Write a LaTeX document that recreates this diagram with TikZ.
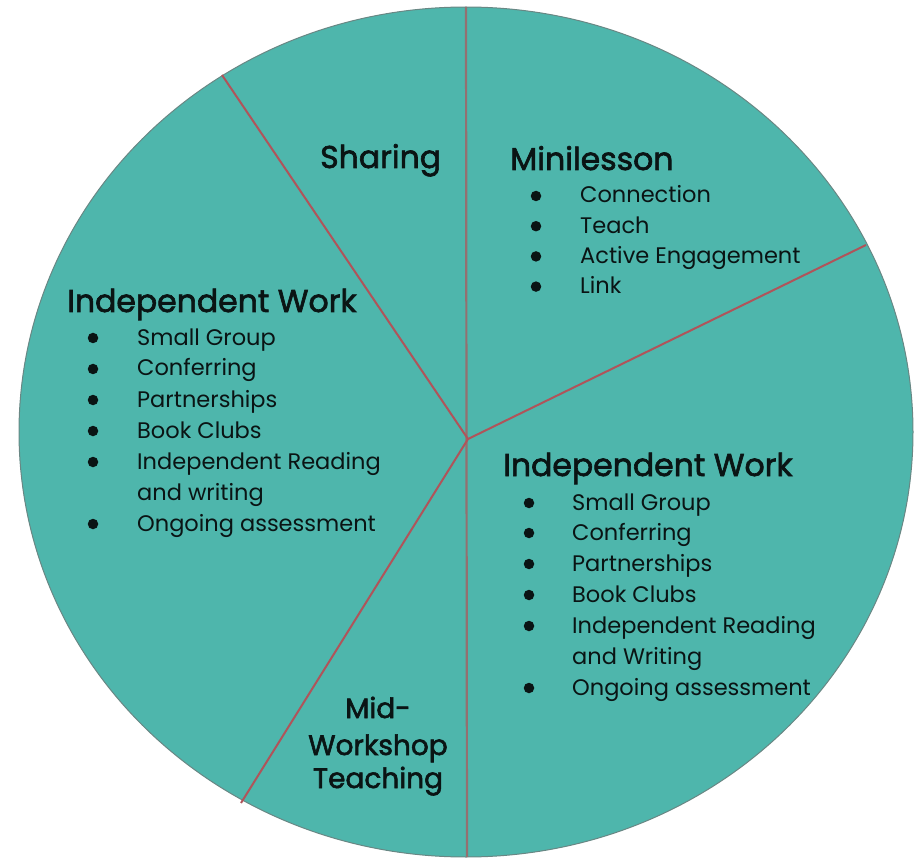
\documentclass[tikz,border=0pt]{standalone}
\usepackage{fontspec}
\setmainfont{Poppins}
\newfontfamily\headfont[FakeBold=2]{Poppins}
\definecolor{pieteal}{RGB}{78,182,172}
\definecolor{pieedge}{RGB}{105,135,132}
\definecolor{divred}{RGB}{176,84,90}
\definecolor{divgray}{RGB}{148,112,112}
\definecolor{txt}{RGB}{10,20,20}
\begin{document}
\begin{tikzpicture}[x=1pt,y=-1pt,
  head/.style={font=\headfont\fontsize{31.5}{33}\selectfont, anchor=base west, inner sep=0pt, text=txt},
  headc/.style={font=\headfont\fontsize{28}{30}\selectfont, anchor=base, inner sep=0pt, text=txt},
  item/.style={font=\fontsize{22.5}{24}\selectfont, anchor=base west, inner sep=0pt, text=txt},
  dot/.style={circle, fill=txt, inner sep=0pt, minimum size=10.5pt},
  divider/.style={draw=divred, line width=2pt},
  vdivider/.style={draw=divgray, line width=2.2pt}]
\useasboundingbox (0,0) rectangle (914,861);
\fill[pieteal, draw=pieedge, line width=1pt] (466,432) ellipse [x radius=447, y radius=425];
% dividers
\coordinate (c) at (468,439);
\coordinate (top) at (466,7);
\coordinate (bot) at (467,857);
\coordinate (ul) at (222,75);
\coordinate (ll) at (241,803);
\coordinate (rr) at (866,245);
\draw[vdivider] (top) -- (bot);
\draw[divider] (c) -- (ul);
\draw[divider] (c) -- (ll);
\draw[divider] (c) -- (rr);
% Sharing
\node[head] (sharing) at (320,168) {Sharing};
% Minilesson
\node[head] (mini) at (510,170) {Minilesson};
\foreach \t [count=\i from 0] in {Connection,Teach,Active Engagement,Link}{
  \node[item] (m\i) at (580,{203+30.2*\i}) {\t};
  \node[dot] (md\i) at (536,{196+30.2*\i}) {};
}
% Left Independent Work
\node[head] (lw) at (67,312) {Independent Work};
\foreach \t/\y [count=\i] in {Small Group/345,Conferring/376,Partnerships/407,Book Clubs/438,Independent Reading/469,Ongoing assessment/531}{
  \node[item] (l\i) at (137,\y) {\t};
  \node[dot] (ld\i) at (93,\y-7) {};
}
\node[item] (lcont) at (137,500) {and writing};
% Right Independent Work
\node[head] (rw) at (503,476) {Independent Work};
\foreach \t/\y [count=\i] in {Small Group/510,Conferring/540,Partnerships/571,Book Clubs/602,Independent Reading/633,Ongoing assessment/695}{
  \node[item] (r\i) at (572,\y) {\t};
  \node[dot] (rd\i) at (529,\y-7) {};
}
\node[item] (rcont) at (572,664) {and Writing};
% Mid-Workshop Teaching
\node[headc] (mid1) at (378,718) {Mid-};
\node[headc] (mid2) at (378,755) {Workshop};
\node[headc] (mid3) at (378,788) {Teaching};
\end{tikzpicture}
\end{document}
